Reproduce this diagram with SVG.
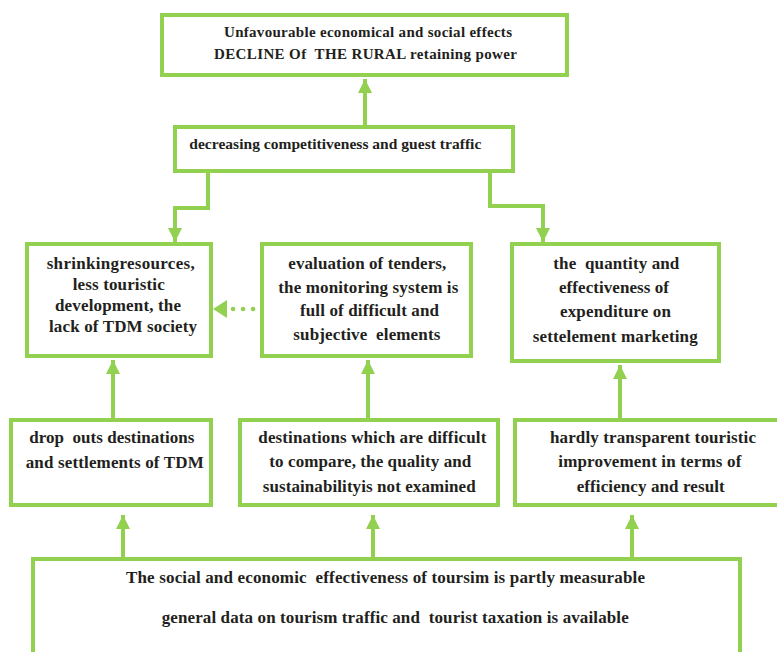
<svg xmlns="http://www.w3.org/2000/svg" width="777" height="652" viewBox="0 0 777 652">
<style>
.box{fill:#fff;stroke:#92D050;stroke-width:4}
.con{fill:none;stroke:#92D050;stroke-width:4}
.dot{fill:none;stroke:#92D050;stroke-width:4.5;stroke-linecap:round;stroke-dasharray:0.1 9.9}
</style>
<defs>
<marker id="ah" markerUnits="userSpaceOnUse" markerWidth="16" markerHeight="16" viewBox="0 0 16 16" refX="14" refY="8" orient="auto">
<path d="M0,1 L14,8 L0,15 Z" fill="#92D050"/>
</marker>
</defs>
<g id="connectors">
<line class="con" x1="365" y1="125" x2="365" y2="79" marker-end="url(#ah)"/>
<polyline class="con" points="208,171 208,208 175,208 175,242" marker-end="url(#ah)"/>
<polyline class="con" points="490,168 490,206 543,206 543,242" marker-end="url(#ah)"/>
<line class="dot" x1="233" y1="309" x2="254" y2="309"/>
<path d="M213,309 L227,300 L227,318 Z" fill="#92D050"/>
<line class="con" x1="113" y1="418" x2="113" y2="360" marker-end="url(#ah)"/>
<line class="con" x1="368" y1="418" x2="368" y2="360" marker-end="url(#ah)"/>
<line class="con" x1="620" y1="418" x2="620" y2="365" marker-end="url(#ah)"/>
<line class="con" x1="123" y1="557" x2="123" y2="515" marker-end="url(#ah)"/>
<line class="con" x1="373" y1="557" x2="373" y2="515" marker-end="url(#ah)"/>
<line class="con" x1="632" y1="557" x2="632" y2="515" marker-end="url(#ah)"/>
</g>
<g font-family="Liberation Serif, Tinos, Times New Roman, DejaVu Serif, serif" font-weight="bold" font-size="17" fill="#231F20" lengthAdjust="spacing">
<g id="top" font-size="15">
<rect class="box" x="162" y="15" width="405" height="60"/>
<text x="224" y="36.7" textLength="288" lengthAdjust="spacing">Unfavourable economical and social effects</text>
<text x="214" y="59.3" textLength="303" lengthAdjust="spacing" xml:space="preserve">DECLINE Of  THE RURAL retaining power</text>
</g>
<g id="decreasing" font-size="15.5">
<rect class="box" x="175" y="127" width="338" height="44"/>
<text x="189.3" y="149" textLength="292" lengthAdjust="spacing">decreasing competitiveness and guest traffic</text>
</g>
<g id="shrinking">
<rect class="box" x="27" y="244" width="184" height="112"/>
<text x="46.7" y="269.3" textLength="148" lengthAdjust="spacing">shrinkingresources,</text>
<text x="72.7" y="290" textLength="92" lengthAdjust="spacing">less touristic</text>
<text x="55" y="310.7" textLength="126" lengthAdjust="spacing">development, the</text>
<text x="49" y="331.7" textLength="148" lengthAdjust="spacing">lack of TDM society</text>
</g>
<g id="evaluation">
<rect class="box" x="262" y="244" width="209" height="112"/>
<text x="288.3" y="269.3" textLength="158" lengthAdjust="spacing">evaluation of tenders,</text>
<text x="278.3" y="292.7" textLength="180" lengthAdjust="spacing">the monitoring system is</text>
<text x="300" y="316.3" textLength="139" lengthAdjust="spacing">full of difficult and</text>
<text x="293.3" y="339.5" textLength="147" lengthAdjust="spacing" xml:space="preserve">subjective  elements</text>
</g>
<g id="quantity">
<rect class="box" x="512" y="244" width="207" height="117"/>
<text x="553.3" y="269.3" textLength="126" lengthAdjust="spacing" xml:space="preserve">the  quantity and</text>
<text x="559" y="292.7" textLength="110" lengthAdjust="spacing">effectiveness of</text>
<text x="560" y="317.3" textLength="111" lengthAdjust="spacing">expenditure on</text>
<text x="532.7" y="341.7" textLength="165" lengthAdjust="spacing">settelement marketing</text>
</g>
<g id="dropouts">
<rect class="box" x="11" y="420" width="200" height="85"/>
<text x="29.3" y="443.3" textLength="165" lengthAdjust="spacing" xml:space="preserve">drop  outs destinations</text>
<text x="25.7" y="468.3" textLength="178" lengthAdjust="spacing">and settlements of TDM</text>
</g>
<g id="destinations">
<rect class="box" x="240" y="420" width="258" height="85"/>
<text x="258.3" y="443.3" textLength="228" lengthAdjust="spacing">destinations which are difficult</text>
<text x="269.3" y="466.7" textLength="202" lengthAdjust="spacing">to compare, the quality and</text>
<text x="262.7" y="491.7" textLength="213" lengthAdjust="spacing">sustainabilityis not examined</text>
</g>
<g id="hardly">
<rect class="box" x="515" y="420" width="270" height="85"/>
<text x="550" y="443.3" textLength="206" lengthAdjust="spacing">hardly transparent touristic</text>
<text x="558.3" y="466.7" textLength="183" lengthAdjust="spacing">improvement in terms of</text>
<text x="576.7" y="491.7" textLength="148" lengthAdjust="spacing">efficiency and result</text>
</g>
<g id="bottom">
<rect class="box" x="33" y="559" width="707" height="110"/>
<text x="126" y="582.7" textLength="519" lengthAdjust="spacing" xml:space="preserve">The social and economic  effectiveness of toursim is partly measurable</text>
<text x="161.7" y="622.7" textLength="467" lengthAdjust="spacing" xml:space="preserve">general data on tourism traffic and  tourist taxation is available</text>
</g>
</g>
</svg>
